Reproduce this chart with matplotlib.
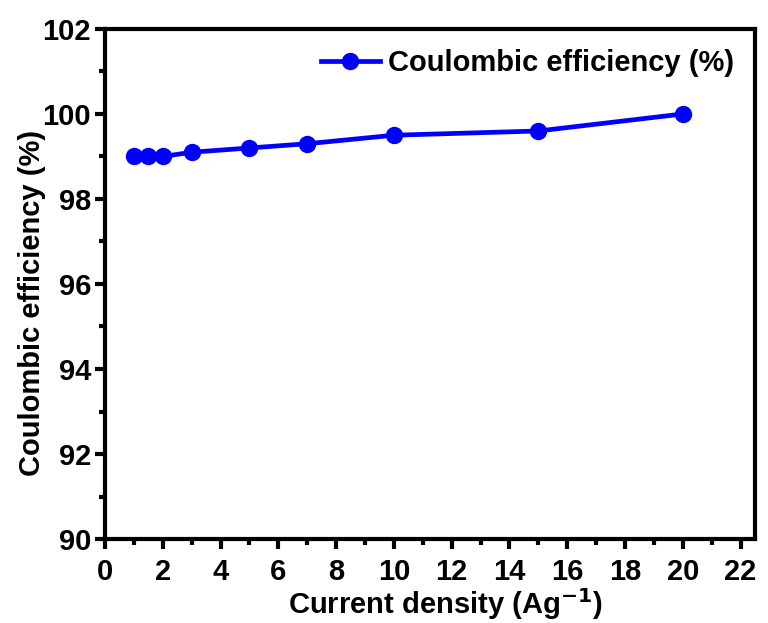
import numpy as np
import matplotlib.pyplot as plt
from matplotlib.ticker import MultipleLocator

plt.rcParams['font.family'] = ['Liberation Sans', 'DejaVu Sans']
plt.rcParams['font.weight'] = 'bold'

# Coulombic efficiency vs current density
current_density = [1, 1.5, 2, 3, 5, 7, 10, 15, 20]  # A/g
efficiency = [99.0, 99.0, 99.0, 99.1, 99.2, 99.3, 99.5, 99.6, 100.0]  # %

fig = plt.figure(figsize=(7.68, 6.23), dpi=100)
ax = fig.add_axes([0.1367, 0.1348, 0.8463, 0.8187])

ax.plot(current_density, efficiency, color='#0000ff', lw=3.4, marker='o',
        markersize=11.5, label='Coulombic efficiency (%)')

ax.set_xlim(0, 22.5)
ax.set_ylim(90, 102)
ax.xaxis.set_major_locator(MultipleLocator(2))
ax.xaxis.set_minor_locator(MultipleLocator(1))
ax.yaxis.set_major_locator(MultipleLocator(2))
ax.yaxis.set_minor_locator(MultipleLocator(1))

for s in ax.spines.values():
    s.set_linewidth(3)
ax.tick_params(which='major', direction='out', length=7, width=3,
               labelsize=21, pad=3, top=False, right=False)
ax.tick_params(axis='x', which='major', pad=7)
ax.tick_params(which='minor', direction='out', length=4, width=3,
               top=False, right=False)
for lbl in ax.get_xticklabels() + ax.get_yticklabels():
    lbl.set_fontweight('bold')

ax.set_xlabel('Current density (Ag$^{\\mathbf{-1}}$)', fontsize=21,
              fontweight='bold')
ax.set_ylabel('Coulombic efficiency (%)', fontsize=21, fontweight='bold')
ax.xaxis.set_label_coords(0.523, -0.092)
ax.yaxis.set_label_coords(-0.091, 0.463)

ax.legend(loc='upper right', frameon=False, handlelength=2.0,
          handletextpad=0.3, borderaxespad=0.3,
          prop={'weight': 'bold', 'size': 21})

fig.savefig('out.png', dpi=100, facecolor='white')
